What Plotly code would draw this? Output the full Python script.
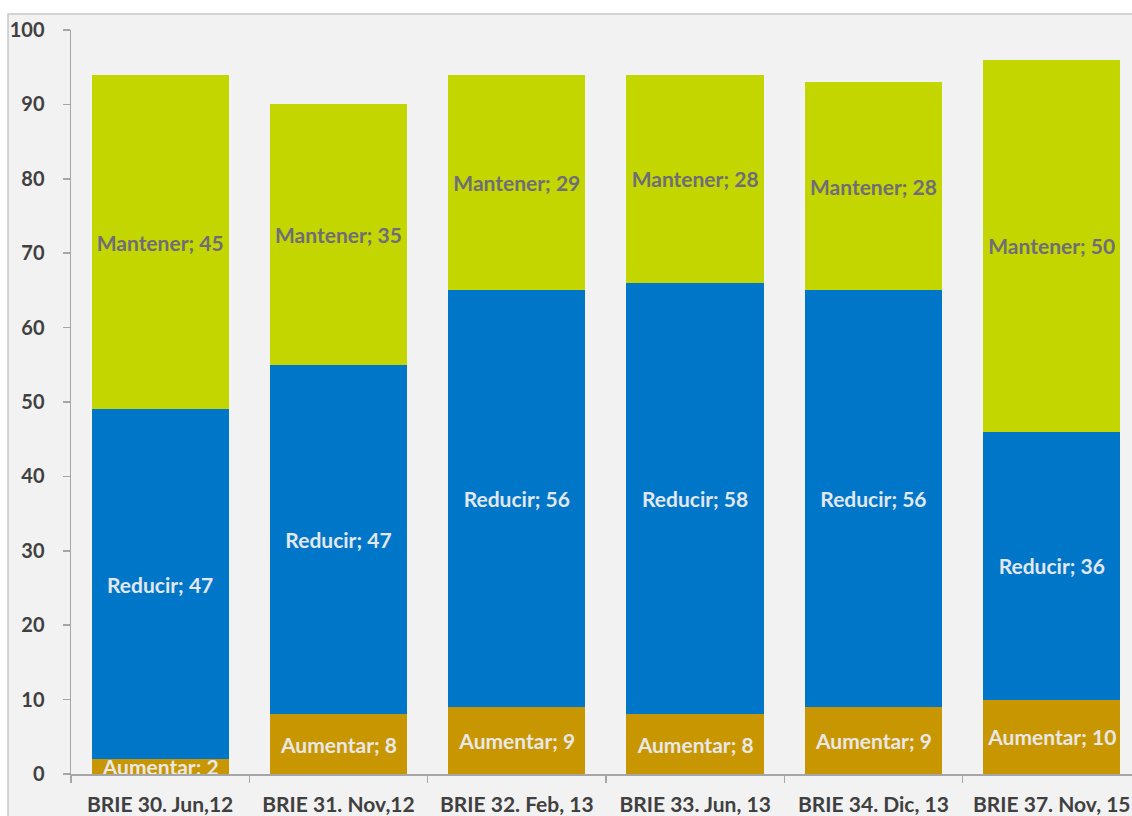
import plotly.graph_objects as go

categories = ["BRIE 30. Jun,12", "BRIE 31. Nov,12", "BRIE 32. Feb, 13",
              "BRIE 33. Jun, 13", "BRIE 34. Dic, 13", "BRIE 37. Nov, 15"]
aumentar = [2, 8, 9, 8, 9, 10]
reducir = [47, 47, 56, 58, 56, 36]
mantener = [45, 35, 29, 28, 28, 50]
y_ticks = [0, 10, 20, 30, 40, 50, 60, 70, 80, 90, 100]

FONT = "Lato"
series = [
    ("Aumentar", aumentar, "#C89600", "#E8E8E8"),
    ("Reducir", reducir, "#0076C9", "#E2E8EE"),
    ("Mantener", mantener, "#C4D600", "#6E6D78"),
]

fig = go.Figure()
for name, vals, color, tcolor in series:
    fig.add_trace(go.Bar(
        x=categories, y=vals, name=name,
        marker=dict(color=color, line=dict(width=0)),
        text=[f"{name}; {v}" for v in vals],
        textposition="inside", insidetextanchor="middle",
        textfont=dict(family=FONT, size=21, color=tcolor, weight="bold"),
        constraintext="none", cliponaxis=True,
        hoverinfo="skip",
    ))

L, R, T, B = 71, 0, 30, 42
W, H = 1132, 816
plot_w = W - L - R
plot_h = H - T - B

fig.update_layout(
    barmode="stack",
    bargap=0.23,
    width=W, height=H,
    margin=dict(l=L, r=R, t=T, b=B, pad=0, autoexpand=False),
    paper_bgcolor="white",
    plot_bgcolor="rgba(0,0,0,0)",
    showlegend=False,
    uniformtext=dict(minsize=21, mode="show"),
    font=dict(family=FONT, color="#404040"),
    shapes=[dict(
        type="rect", xref="paper", yref="paper", layer="below",
        x0=(8 - L) / plot_w, x1=1.02,
        y0=-0.2, y1=(H - B - 14) / plot_h,
        fillcolor="#F2F2F2", line=dict(color="#C8C8C8", width=1.5),
    )],
)
fig.update_xaxes(
    range=[-0.5, 5.45], automargin=False,
    showgrid=False, showline=True, linecolor="#A6A6A6", linewidth=1.5,
    ticks="outside", ticklen=7, tickcolor="#A6A6A6", tickwidth=1.5,
    tickson="boundaries",
    tickfont=dict(family=FONT, size=21, color="#404040", weight="bold"),
    ticklabelstandoff=11,
)
fig.update_yaxes(
    range=[0, 100], tickvals=y_ticks, automargin=False,
    showgrid=False, zeroline=False, showline=True, linecolor="#A6A6A6", linewidth=1.5,
    ticks="outside", ticklen=7, tickcolor="#A6A6A6", tickwidth=1.5,
    tickfont=dict(family=FONT, size=20, color="#404040", weight="bold"),
    ticklabelstandoff=14,
)

fig.write_html(
    "out.html",
    config={"displayModeBar": False, "staticPlot": True},
    post_script="document.body.style.margin='0';document.body.style.overflow='hidden';",
)
